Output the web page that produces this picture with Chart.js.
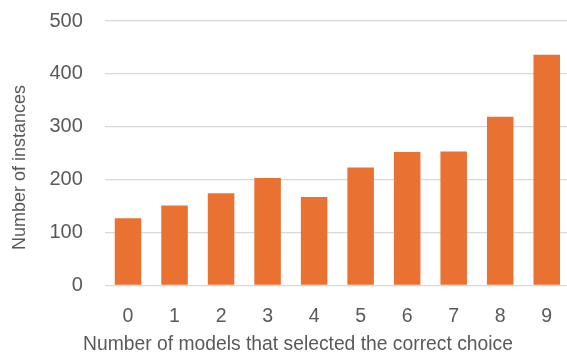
<!DOCTYPE html>
<html>
<head>
<meta charset="utf-8">
<script src="https://cdn.jsdelivr.net/npm/chart.js@4"></script>
<style>
html,body{margin:0;padding:0;background:#fff;overflow:hidden;}
#wrap{width:567px;height:356px;overflow:hidden;}
</style>
</head>
<body>
<div id="wrap"><canvas id="c" width="570" height="356"></canvas></div>
<script>
const categories = ["0","1","2","3","4","5","6","7","8","9"];
const instances = [127, 151, 174, 203, 167, 223, 252, 253, 319, 436];
const yTicks = [0, 100, 200, 300, 400, 500];
const xTitle = 'Number of models that selected the correct choice';
const yTitle = 'Number of instances';

const axisTitles = {
  id: 'axisTitles',
  afterDraw(chart) {
    const ctx = chart.ctx;
    ctx.save();
    ctx.fillStyle = '#595959';
    ctx.textAlign = 'center';
    ctx.textBaseline = 'middle';
    ctx.font = '19.3px "Liberation Sans"';
    ctx.fillText(xTitle, 298, 345);
    ctx.translate(20.5, 167.5);
    ctx.rotate(-Math.PI / 2);
    ctx.font = '18px "Liberation Sans"';
    ctx.fillText(yTitle, 0, 0);
    ctx.restore();
  }
};

new Chart(document.getElementById('c'), {
  type: 'bar',
  data: {
    labels: categories,
    datasets: [{
      data: instances,
      backgroundColor: '#E97132',
      borderWidth: 0,
      barPercentage: 0.57,
      categoryPercentage: 1.0
    }]
  },
  options: {
    responsive: false,
    animation: false,
    layout: { padding: { top: 21, right: 0, left: 0, bottom: 0 } },
    plugins: { legend: { display: false }, tooltip: { enabled: false } },
    scales: {
      x: {
        grid: { display: false },
        border: { display: false },
        ticks: { color: '#595959', font: { family: 'Liberation Sans', size: 19.5 }, padding: 12 },
        title: { display: false },
        afterFit: (s) => { s.height = 70.7; s.paddingLeft = 0; s.paddingRight = 0; }
      },
      y: {
        min: 0, max: 500,
        afterBuildTicks: (s) => { s.ticks = yTicks.map(v => ({ value: v })); },
        grid: { color: '#D9D9D9', lineWidth: 1.3, drawTicks: false },
        border: { display: false },
        ticks: { color: '#595959', font: { family: 'Liberation Sans', size: 20 }, padding: 22 },
        title: { display: false },
        afterFit: (s) => { s.width = 104.75; s.paddingTop = 0; s.paddingBottom = 0; }
      }
    }
  },
  plugins: [axisTitles]
});
</script>
</body>
</html>
